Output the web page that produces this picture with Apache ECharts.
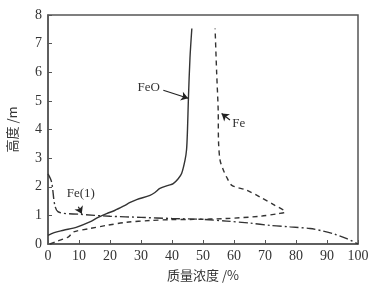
<!DOCTYPE html>
<html>
<head>
<meta charset="utf-8">
<script src="https://cdn.jsdelivr.net/npm/echarts@6/dist/echarts.min.js"></script>
<style>
  html, body { margin: 0; padding: 0; background: #fff; }
  #chart { width: 380px; height: 286px; }
</style>
</head>
<body>
<div id="chart"></div>
<script>
// [质量浓度 %, 高度 m]
var feoData = [
  [0, 0.3], [2, 0.4], [5, 0.48], [9.3, 0.59], [13.5, 0.77], [16, 0.92],
  [18.9, 1.06], [21.5, 1.17], [24.3, 1.32], [26.5, 1.45], [28.6, 1.55],
  [32.9, 1.7], [34.5, 1.8], [36.1, 1.94], [38.8, 2.05], [40.4, 2.11],
  [42, 2.28], [43.1, 2.46], [44.2, 2.93], [44.7, 3.3], [45, 4.0],
  [45.3, 5.1], [45.8, 6.5], [46.4, 7.53]
]
var feData = [
  [0.6, 0.0], [3, 0.1], [6.6, 0.25], [8.2, 0.42], [13.5, 0.54], [18.9, 0.65],
  [25.4, 0.76], [32.9, 0.82], [39.4, 0.85], [46.9, 0.86], [57.6, 0.89],
  [68.4, 0.97], [74.3, 1.06], [76.5, 1.12], [73.2, 1.35], [68.4, 1.64],
  [64.1, 1.88], [59.3, 2.05], [57.6, 2.34], [56.5, 2.6], [55.5, 2.93],
  [55, 3.6], [54.9, 4.67], [54.4, 6.0], [53.9, 7.53]
]
var fe1Data = [
  [0, 2.45], [1.1, 2.19], [3.2, 1.13], [10, 1.04], [20, 0.97], [30, 0.93],
  [40, 0.89], [50, 0.86], [57.6, 0.8], [65.2, 0.73], [71.6, 0.65],
  [78.1, 0.6], [84.5, 0.54], [88.8, 0.45], [92.5, 0.34], [96.4, 0.19], [100, 0.0]
]
var seriesNames = ['FeO', 'Fe', 'Fe(1)']
// 标注: 文字位置, 箭头起点, 箭头终点
var labelPos = [[32.5, 5.47], [61.5, 4.2], [10.6, 1.77]]
var arrowFrom = [[37.2, 5.37], [58.7, 4.33], [9.8, 1.3]]
var arrowTo = [[45.2, 5.09], [56, 4.56], [10.9, 1.06]]

var chart = echarts.init(document.getElementById('chart'))
var ink = '#333'
var serif = '"Liberation Serif", "DejaVu Serif", serif'
var cjk = '"Noto Sans CJK SC", serif'
var lineTypes = ['solid', [5, 4], [9, 3, 2, 3]]
var datasets = [feoData, feData, fe1Data]

chart.setOption({
  animation: false,
  grid: {
    left: 48, right: 22, top: 15, bottom: 42,
    outerBoundsMode: 'none', containLabel: false,
    show: true, borderColor: '#555', borderWidth: 1.5
  },
  xAxis: {
    type: 'value', min: 0, max: 100, interval: 10,
    name: '质量浓度 /%', nameLocation: 'middle', nameGap: 25,
    nameTextStyle: { fontFamily: cjk, fontSize: 13, color: ink },
    axisLine: { lineStyle: { color: '#555', width: 1.5 } },
    axisTick: { inside: true, length: 4, lineStyle: { color: '#555' } },
    axisLabel: { fontFamily: serif, fontSize: 14, color: ink, margin: 5 },
    splitLine: { show: false }
  },
  yAxis: {
    type: 'value', min: 0, max: 8, interval: 1,
    name: '高度 /m', nameLocation: 'middle', nameGap: 29,
    nameTextStyle: { fontFamily: cjk, fontSize: 13, color: ink },
    axisLine: { lineStyle: { color: '#555', width: 1.5 } },
    axisTick: { inside: true, length: 4, lineStyle: { color: '#555' } },
    axisLabel: { fontFamily: serif, fontSize: 14, color: ink, margin: 6 },
    splitLine: { show: false }
  },
  series: seriesNames.map(function (name, i) {
    return {
      name: name,
      type: 'line',
      data: datasets[i],
      showSymbol: false,
      smooth: 0.3,
      lineStyle: { color: ink, width: 1.4, type: lineTypes[i] },
      markPoint: {
        symbol: 'circle', symbolSize: 0,
        label: { show: true, position: 'inside', formatter: name, fontFamily: serif, fontSize: 13, color: ink },
        data: [{ coord: labelPos[i] }]
      },
      markLine: {
        silent: true,
        symbol: ['none', 'arrow'], symbolSize: 7,
        label: { show: false },
        lineStyle: { color: '#222', width: 1.2, type: 'solid' },
        data: [[{ coord: arrowFrom[i] }, { coord: arrowTo[i] }]]
      }
    }
  })
})
</script>
</body>
</html>
